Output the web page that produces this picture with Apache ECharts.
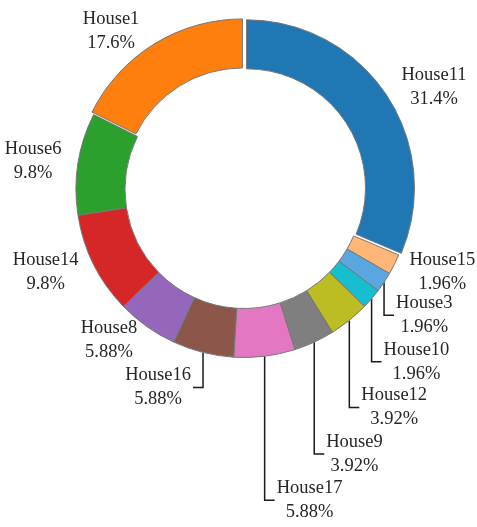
<!DOCTYPE html>
<html>
<head>
<meta charset="utf-8">
<script src="https://cdn.jsdelivr.net/npm/echarts@6/dist/echarts.min.js"></script>
<style>
html,body{margin:0;padding:0;background:#fff;}
#chart{width:477px;height:527px;}
</style>
</head>
<body>
<div id="chart"></div>
<script>
// ---- data ----
const categories = ['House11','House15','House3','House10','House12','House9','House17','House16','House8','House14','House6','House1'];
const values = [16, 1, 1, 1, 2, 2, 3, 3, 3, 5, 5, 9];
const colors = ['#1f77b4','#ffb677','#5aa7e0','#17becf','#bcbd22','#7f7f7f','#e377c2','#8c564b','#9467bd','#d62728','#2ca02c','#ff7f0e'];
const exploded = ['House11','House1'];
// leader-line labels: name -> vertical drop (px) of the annotation line
const leaderDrop = {House3: 33, House10: 63, House12: 87, House9: 112, House17: 144, House16: 35};

// ---- layout ----
const CX = 244, CY = 189.5, R_OUT = 168, R_IN = 119, EXPLODE = 3;
const total = values.reduce((a, b) => a + b, 0);
const fmtPct = v => Number((v / total * 100).toPrecision(3)).toString() + '%';

// mid angles (clockwise from top, radians)
const midAngles = [];
let acc = 0;
values.forEach(v => { midAngles.push((acc + v / 2) / total * Math.PI * 2); acc += v; });

const data = categories.map((name, i) => ({
  name: name,
  value: values[i],
  selected: exploded.indexOf(name) >= 0,
  itemStyle: {color: colors[i]},
  labelLine: {show: leaderDrop[name] !== undefined}
}));

const chart = echarts.init(document.getElementById('chart'), null, {renderer: 'canvas'});
chart.setOption({
  animation: false,
  backgroundColor: '#ffffff',
  series: [{
    type: 'pie',
    center: [CX, CY],
    radius: [R_IN, R_OUT],
    startAngle: 90,
    clockwise: true,
    avoidLabelOverlap: false,
    selectedMode: 'multiple',
    selectedOffset: EXPLODE,
    emphasis: {disabled: true},
    itemStyle: {borderColor: '#777', borderWidth: 1},
    label: {
      show: true,
      position: 'outside',
      formatter: p => p.name + '\n' + fmtPct(p.value),
      fontFamily: 'Liberation Serif',
      fontSize: 18.5,
      lineHeight: 24,
      color: '#262626'
    },
    labelLine: {show: true, lineStyle: {color: '#1a1a1a', width: 1.5}},
    labelLayout: function (params) {
      const i = params.dataIndex;
      const name = categories[i];
      const a = midAngles[i];
      const dx = Math.sin(a), dy = -Math.cos(a);
      const w = params.labelRect.width;
      const side = dx >= 0 ? 1 : -1;
      if (leaderDrop[name] !== undefined) {
        const ex = CX + dx * R_OUT, ey = CY + dy * R_OUT;
        const yy = ey + leaderDrop[name];
        const lx = ex + side * 10;
        return {
          x: lx + side * (2 + w / 2), y: yy,
          align: 'center', verticalAlign: 'middle',
          labelLinePoints: [[ex, ey], [ex, yy], [lx, yy]]
        };
      }
      const r = R_OUT * 1.1;
      const ax = CX + dx * r, ay = CY + dy * r;
      return {x: ax + side * w / 2, y: ay, align: 'center', verticalAlign: 'middle'};
    },
    data: data
  }]
});
</script>
</body>
</html>
